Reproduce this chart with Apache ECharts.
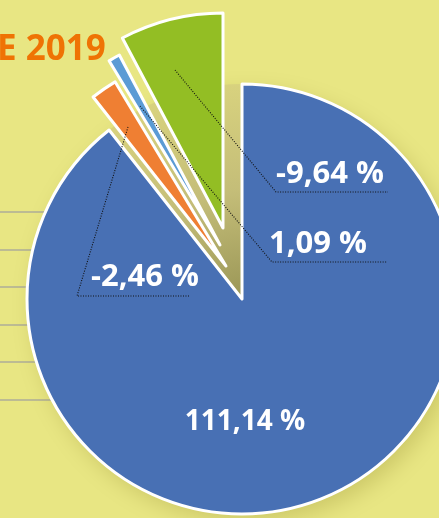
<!DOCTYPE html>
<html>
<head>
<meta charset="utf-8">
<script src="https://cdn.jsdelivr.net/npm/echarts@6/dist/echarts.min.js"></script>
<style>
  html, body { margin: 0; padding: 0; background: #e8e683; }
  #main { width: 439px; height: 518px; }
</style>
</head>
<body>
<div id="main"></div>
<script>
// données
const titleText = 'E 2019'
const names = ['Part 1', 'Part 2', 'Part 3', 'Part 4']
const values = [111.14, -2.46, 1.09, -9.64]
const rowTicks = [0, 1, 2, 3, 4, 5]

const colorList = ['#4870b4', '#ef7f33', '#5b9bd5', '#93be24']
// centre de chaque part (parts écartées)
const centers = [[242, 299], [226, 266], [220, 245], [223, 228]]
// position du texte et trait pointillé
const labelPos = [[245, 422], [145, 277], [318, 244], [330, 174]]
const labelSize = [28, 31, 31, 31]
const leaders = [
  null,
  [[128, 127], [77, 296], [190, 296]],
  [[140, 106], [272, 262], [387, 262]],
  [[175, 70], [276, 192], [388, 192]]
]
const R = 215

const fmt = v => v.toFixed(2).replace('.', ',') + ' %'
const total = values.reduce((s, v) => s + Math.abs(v), 0)

const chart = echarts.init(document.getElementById('main'))

// une série par part, les autres parts transparentes
function sliceSeries (k) {
  return {
    type: 'pie',
    center: centers[k],
    radius: [0, R],
    startAngle: 90,
    silent: true,
    animation: false,
    z: 3 + k,
    emphasis: { disabled: true },
    label: { show: false },
    labelLine: { show: false },
    data: values.map((v, i) => ({
      name: names[i],
      value: Math.abs(v),
      itemStyle: i === k
        ? { color: colorList[i], borderColor: '#ffffff', borderWidth: 3 }
        : { color: 'rgba(0,0,0,0)', borderWidth: 0 }
    }))
  }
}

// série des étiquettes, au-dessus de tout
const labelSeries = {
  type: 'pie',
  center: centers[0],
  radius: [0, R],
  startAngle: 90,
  silent: true,
  animation: false,
  avoidLabelOverlap: false,
  z: 10,
  emphasis: { disabled: true },
  itemStyle: { color: 'rgba(0,0,0,0)', borderWidth: 0 },
  label: {
    show: true,
    position: 'outside',
    color: '#ffffff',
    fontFamily: 'Open Sans',
    fontWeight: 'bold',
    fontSize: 31,
    formatter: p => fmt(values[p.dataIndex])
  },
  labelLine: {
    show: true,
    lineStyle: { color: '#111111', width: 1.1, type: [1, 1.5] }
  },
  labelLayout: function (params) {
    let k = params.dataIndex
    let res = { x: labelPos[k][0], y: labelPos[k][1], align: 'center', verticalAlign: 'middle' }
    if (leaders[k]) res.labelLinePoints = leaders[k]
    return res
  },
  data: values.map((v, i) => ({
    name: names[i],
    value: Math.abs(v),
    label: { fontSize: labelSize[i] },
    labelLine: { show: leaders[i] !== null }
  }))
}

const option = {
  backgroundColor: '#e8e683',
  title: {
    text: titleText,
    left: -3,
    top: 33,
    padding: 0,
    textStyle: { color: '#ef7304', fontFamily: 'Open Sans', fontWeight: 'bold', fontSize: 35 }
  },
  grid: { left: 0, top: 212, width: 150, height: 187.5 },
  xAxis: { type: 'value', show: false },
  yAxis: {
    type: 'value',
    min: 0,
    max: rowTicks[rowTicks.length - 1],
    interval: 1,
    axisLine: { show: false },
    axisTick: { show: false },
    axisLabel: { show: false },
    splitLine: { lineStyle: { color: '#aeac98', width: 1.5 } }
  },
  series: [
    // ombre derrière le camembert
    {
      type: 'pie',
      center: centers[0],
      radius: [0, R],
      silent: true,
      animation: false,
      z: 2,
      label: { show: false },
      labelLine: { show: false },
      emphasis: { disabled: true },
      itemStyle: {
        color: {
          type: 'radial', x: 0.5, y: 0.5, r: 0.5,
          colorStops: [
            { offset: 0, color: '#9a9656' },
            { offset: 0.5, color: '#c4bd78' },
            { offset: 1, color: '#d8d27e' }
          ]
        },
        shadowBlur: 22,
        shadowColor: 'rgba(130,120,30,0.28)',
        shadowOffsetX: 6,
        shadowOffsetY: 8
      },
      data: [{ name: 'total', value: total }]
    },
    sliceSeries(0),
    sliceSeries(1),
    sliceSeries(2),
    sliceSeries(3),
    labelSeries
  ]
}

chart.setOption(option)
</script>
</body>
</html>
